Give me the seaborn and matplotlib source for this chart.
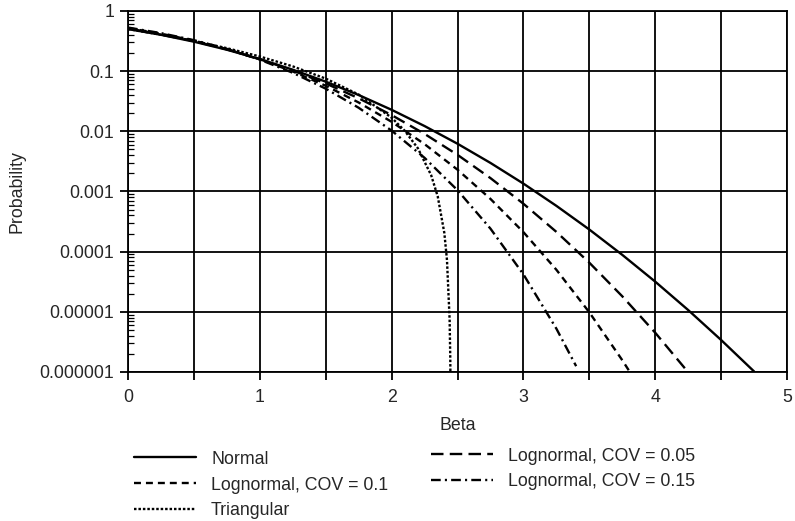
import matplotlib
matplotlib.use("Agg")
import matplotlib.pyplot as plt
from matplotlib.ticker import FixedLocator, FixedFormatter, NullFormatter
import pandas as pd
import seaborn as sns

# Failure probability versus reliability index (beta)
beta_normal = [0, 0.25, 0.5, 0.75, 1.0, 1.25, 1.5, 1.75, 2.0, 2.25, 2.5, 2.75,
               3.0, 3.25, 3.5, 3.75, 4.0, 4.25, 4.5, 4.75]
p_normal = [0.5, 0.4013, 0.3085, 0.2266, 0.1587, 0.1056, 0.06681, 0.04006,
            0.02275, 0.01222, 0.00621, 0.00298, 0.00135, 5.77e-4, 2.33e-4,
            8.84e-5, 3.17e-5, 1.07e-5, 3.40e-6, 1.02e-6]

beta_ln05 = [0, 0.25, 0.5, 0.75, 1.0, 1.25, 1.5, 1.75, 2.0, 2.25, 2.5, 2.75,
             3.0, 3.25, 3.5, 3.75, 4.0, 4.25]
p_ln05 = [0.510, 0.4103, 0.3150, 0.2297, 0.1583, 0.1026, 0.0624, 0.0354,
          0.0186, 0.00905, 0.00406, 0.001667, 6.25e-4, 2.13e-4, 6.55e-5,
          1.81e-5, 4.49e-6, 9.9e-7]

beta_ln10 = [0, 0.25, 0.5, 0.75, 1.0, 1.25, 1.5, 1.75, 2.0, 2.25, 2.5, 2.75,
             3.0, 3.25, 3.5, 3.75, 3.8, 3.85]
p_ln10 = [0.520, 0.4192, 0.3212, 0.2322, 0.1571, 0.0987, 0.0571, 0.0301,
          0.01437, 0.00612, 0.00230, 7.52e-4, 2.11e-4, 5.0e-5, 9.8e-6,
          1.57e-6, 1.06e-6, 7.05e-7]

beta_ln15 = [0, 0.25, 0.5, 0.75, 1.0, 1.25, 1.5, 1.75, 2.0, 2.25, 2.5, 2.75,
             3.0, 3.25, 3.4]
p_ln15 = [0.530, 0.4280, 0.3270, 0.2341, 0.1551, 0.0939, 0.0511, 0.0246,
          0.01026, 0.00362, 0.001048, 2.41e-4, 4.19e-5, 5.25e-6, 1.25e-6]

beta_tri = [0, 0.25, 0.5, 0.75, 1.0, 1.25, 1.5, 1.75, 2.0, 2.1, 2.2, 2.3,
            2.35, 2.4, 2.42, 2.44, 2.445, 2.447]
p_tri = [0.5, 0.4032, 0.3167, 0.2407, 0.1751, 0.1199, 0.0751, 0.0408,
         0.01684, 0.01018, 0.00519, 0.001862, 8.25e-4, 2.04e-4, 7.25e-5,
         7.52e-6, 1.69e-6, 5.2e-7]

y_ticks = [1, 0.1, 0.01, 0.001, 0.0001, 0.00001, 0.000001]
y_tick_labels = ["1", "0.1", "0.01", "0.001", "0.0001", "0.00001", "0.000001"]
x_ticks = [0, 0.5, 1, 1.5, 2, 2.5, 3, 3.5, 4, 4.5, 5]
x_tick_labels = ["0", "", "1", "", "2", "", "3", "", "4", "", "5"]

sns.set_style("ticks")
plt.rcParams["font.family"] = ["Liberation Sans", "DejaVu Sans"]
plt.rcParams["lines.scale_dashes"] = False
plt.rcParams["font.size"] = 12.8

fig = plt.figure(figsize=(7.95, 5.21), dpi=100)
ax = fig.add_axes([0.161, 0.286, 0.829, 0.693])

curves = {
    "Normal": (beta_normal, p_normal, "-"),
    "Lognormal, COV = 0.05": (beta_ln05, p_ln05, (0, (9, 4.5))),
    "Lognormal, COV = 0.1": (beta_ln10, p_ln10, (0, (5, 3.6))),
    "Lognormal, COV = 0.15": (beta_ln15, p_ln15, (0, (7, 3, 1.5, 3))),
    "Triangular": (beta_tri, p_tri, (0, (1.8, 1.4))),
}

handles = {}
for name, (b, p, ls) in curves.items():
    df = pd.DataFrame({"Beta": b, "Probability": p})
    sns.lineplot(data=df, x="Beta", y="Probability", ax=ax, color="black",
                 linewidth=1.7, linestyle=ls, legend=False)
    handles[name] = ax.lines[-1]

ax.set_yscale("log")
ax.set_xlim(0, 5)
ax.set_ylim(1e-6, 1)

ax.xaxis.set_major_locator(FixedLocator(x_ticks))
ax.xaxis.set_major_formatter(FixedFormatter(x_tick_labels))
ax.yaxis.set_major_locator(FixedLocator(y_ticks))
ax.yaxis.set_major_formatter(FixedFormatter(y_tick_labels))
minor = [m * 10.0 ** e for e in range(-6, 0) for m in range(2, 10)]
ax.yaxis.set_minor_locator(FixedLocator(minor))
ax.yaxis.set_minor_formatter(NullFormatter())
ax.xaxis.set_minor_locator(FixedLocator([]))

ax.grid(True, which="major", color="black", linewidth=1.3)
ax.set_axisbelow(True)
for s in ax.spines.values():
    s.set_color("black")
    s.set_linewidth(1.3)

ax.tick_params(axis="both", which="major", direction="out", length=6,
               width=1.3, color="black", labelsize=12.8)
ax.tick_params(axis="x", which="major", pad=6)
ax.tick_params(axis="y", which="major", pad=4)
ax.tick_params(axis="y", which="minor", direction="in", length=4,
               width=0.9, color="black")

ax.set_xlabel("Beta", fontsize=12.8, labelpad=8)
ax.set_ylabel("Probability", fontsize=12.8, labelpad=10)

leg_kw = dict(frameon=False, fontsize=12.8, handlelength=3.5,
              handletextpad=0.85, labelspacing=0.5, borderpad=0,
              loc="upper left")
left_names = ["Normal", "Lognormal, COV = 0.1", "Triangular"]
right_names = ["Lognormal, COV = 0.05", "Lognormal, COV = 0.15"]
fig.legend([handles[n] for n in left_names], left_names,
           bbox_to_anchor=(0.157, 0.152), **leg_kw)
fig.legend([handles[n] for n in right_names], right_names,
           bbox_to_anchor=(0.531, 0.158), **leg_kw)

fig.savefig("out.png", dpi=100)
